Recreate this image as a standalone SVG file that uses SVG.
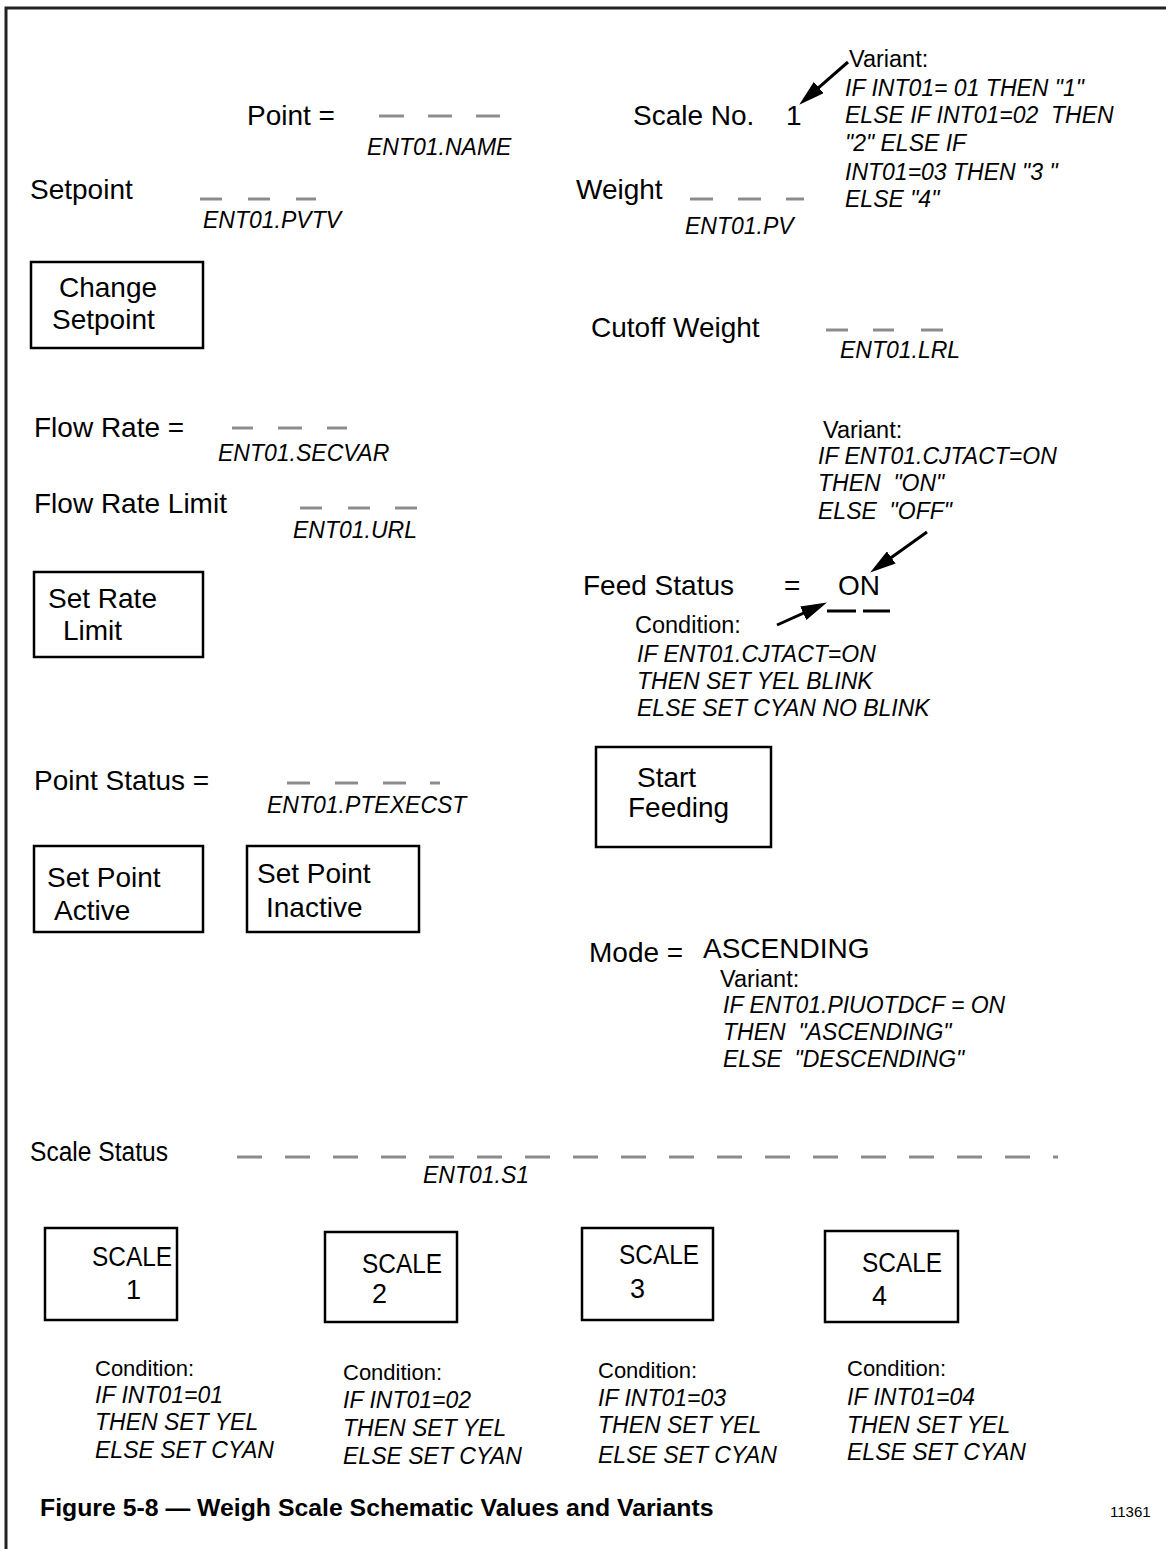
<svg xmlns="http://www.w3.org/2000/svg" width="1166" height="1549" viewBox="0 0 1166 1549">
<defs>
<style>
text{font-family:"Liberation Sans",Arial,sans-serif;fill:#000}
.lb{font-size:28px}
.lc{font-size:27px}
.it{font-size:23px;font-style:italic}
.sm{font-size:23.5px}
.sb{font-size:22px}
.cap{font-size:24.8px;font-weight:bold}
.num{font-size:15px}
.box{fill:none;stroke:#000;stroke-width:2.5}
.dash{stroke:#8c8c8c;stroke-width:3}
.bdash{stroke:#000;stroke-width:3}
.arr{stroke:#000;stroke-width:3;fill:none}
.frame{stroke:#222;stroke-width:3;fill:none}
</style>
<marker id="ah" markerUnits="userSpaceOnUse" markerWidth="26" markerHeight="15" refX="15" refY="7.5" orient="auto">
<path d="M0,0 L26,7.5 L0,15 z" fill="#000"/>
</marker>
</defs>
<rect width="1166" height="1549" fill="#fff"/>
<path class="frame" d="M6,1549 L6,8 L1166,8"/>

<g id="point">
<text class="lb" x="247" y="125">Point =</text>
<line class="dash" x1="379" y1="116" x2="404" y2="116"/><line class="dash" x1="428" y1="116" x2="452" y2="116"/><line class="dash" x1="476" y1="116" x2="500" y2="116"/>
<text class="it" x="367" y="155">ENT01.NAME</text>
</g>

<g id="setpoint">
<text class="lb" x="30" y="199">Setpoint</text>
<line class="dash" x1="200" y1="199" x2="222" y2="199"/><line class="dash" x1="248" y1="199" x2="270" y2="199"/><line class="dash" x1="296" y1="199" x2="316" y2="199"/>
<text class="it" x="203" y="228">ENT01.PVTV</text>
</g>

<g id="change-setpoint">
<rect class="box" x="31" y="262" width="172" height="86"/>
<text class="lb" x="59" y="297">Change</text>
<text class="lb" x="52" y="329">Setpoint</text>
</g>

<g id="scale-no">
<text class="lb" x="633" y="125">Scale No.</text>
<text class="lb" x="786" y="125">1</text>
</g>

<g id="scale-variant">
<text class="sm" x="849" y="67">Variant:</text>
<text class="it" x="845" y="96">IF INT01= 01 THEN "1"</text>
<text class="it" x="845" y="123" xml:space="preserve">ELSE IF INT01=02  THEN</text>
<text class="it" x="845" y="151">"2" ELSE IF</text>
<text class="it" x="845" y="180">INT01=03 THEN "3 "</text>
<text class="it" x="845" y="207">ELSE "4"</text>
</g>

<g id="weight">
<text class="lb" x="576" y="199">Weight</text>
<line class="dash" x1="690" y1="199" x2="713" y2="199"/><line class="dash" x1="738" y1="199" x2="761" y2="199"/><line class="dash" x1="786" y1="199" x2="804" y2="199"/>
<text class="it" x="685" y="234">ENT01.PV</text>
</g>

<g id="cutoff-weight">
<text class="lb" x="591" y="337">Cutoff Weight</text>
<line class="dash" x1="826" y1="330" x2="848" y2="330"/><line class="dash" x1="873" y1="330" x2="894" y2="330"/><line class="dash" x1="921" y1="330" x2="943" y2="330"/>
<text class="it" x="840" y="358">ENT01.LRL</text>
</g>

<g id="flow-rate">
<text class="lb" x="34" y="437">Flow Rate =</text>
<line class="dash" x1="232" y1="428" x2="253" y2="428"/><line class="dash" x1="278" y1="428" x2="302" y2="428"/><line class="dash" x1="327" y1="428" x2="347" y2="428"/>
<text class="it" x="218" y="461">ENT01.SECVAR</text>
</g>

<g id="flow-rate-limit">
<text class="lb" x="34" y="513">Flow Rate Limit</text>
<line class="dash" x1="300" y1="508" x2="322" y2="508"/><line class="dash" x1="348" y1="508" x2="370" y2="508"/><line class="dash" x1="395" y1="508" x2="417" y2="508"/>
<text class="it" x="293" y="538">ENT01.URL</text>
</g>

<g id="set-rate-limit">
<rect class="box" x="34" y="572" width="169" height="85"/>
<text class="lb" x="48" y="608">Set Rate</text>
<text class="lb" x="63" y="640">Limit</text>
</g>

<g id="feed-variant">
<text class="sm" x="823" y="438">Variant:</text>
<text class="it" x="818" y="464">IF ENT01.CJTACT=ON</text>
<text class="it" x="818" y="491" xml:space="preserve">THEN  "ON"</text>
<text class="it" x="818" y="519" xml:space="preserve">ELSE  "OFF"</text>
</g>

<g id="feed-status">
<text class="lb" x="583" y="595">Feed Status</text>
<text class="lb" x="784" y="595">=</text>
<text class="lb" x="838" y="595">ON</text>
<line class="bdash" x1="827" y1="611" x2="856" y2="611"/><line class="bdash" x1="863" y1="611" x2="890" y2="611"/>
</g>

<g id="feed-condition">
<text class="sm" x="635" y="633">Condition:</text>
<text class="it" x="637" y="662">IF ENT01.CJTACT=ON</text>
<text class="it" x="637" y="689">THEN SET YEL BLINK</text>
<text class="it" x="637" y="716">ELSE SET CYAN NO BLINK</text>
</g>

<g id="point-status">
<text class="lb" x="34" y="790">Point Status =</text>
<line class="dash" x1="287" y1="783" x2="310" y2="783"/><line class="dash" x1="335" y1="783" x2="358" y2="783"/><line class="dash" x1="383" y1="783" x2="406" y2="783"/><line class="dash" x1="430" y1="783" x2="440" y2="783"/>
<text class="it" x="267" y="813">ENT01.PTEXECST</text>
</g>

<g id="start-feeding">
<rect class="box" x="596" y="747" width="175" height="100"/>
<text class="lb" x="637" y="787">Start</text>
<text class="lb" x="628" y="817">Feeding</text>
</g>

<g id="set-point-active">
<rect class="box" x="34" y="846" width="169" height="86"/>
<text class="lb" x="47" y="887">Set Point</text>
<text class="lb" x="54" y="920">Active</text>
</g>

<g id="set-point-inactive">
<rect class="box" x="247" y="846" width="172" height="86"/>
<text class="lb" x="257" y="883">Set Point</text>
<text class="lb" x="266" y="917">Inactive</text>
</g>

<g id="mode">
<text class="lb" x="589" y="962">Mode =</text>
<text class="lb" x="703" y="958">ASCENDING</text>
<text class="sm" x="720" y="987">Variant:</text>
<text class="it" x="723" y="1013">IF ENT01.PIUOTDCF = ON</text>
<text class="it" x="723" y="1040" xml:space="preserve">THEN  "ASCENDING"</text>
<text class="it" x="723" y="1067" xml:space="preserve">ELSE  "DESCENDING"</text>
</g>

<g id="scale-status">
<text class="lc" x="30" y="1161" textLength="138" lengthAdjust="spacingAndGlyphs">Scale Status</text>
<line class="dash" x1="237" y1="1157" x2="1058" y2="1157" stroke-dasharray="25 23"/>
<text class="it" x="423" y="1183">ENT01.S1</text>
</g>

<g id="scale-1">
<rect class="box" x="45" y="1228" width="132" height="92"/>
<text class="lc" x="92" y="1266" textLength="80" lengthAdjust="spacingAndGlyphs">SCALE</text>
<text class="lc" x="126" y="1299">1</text>
</g>
<g id="scale-2">
<rect class="box" x="325" y="1232" width="132" height="90"/>
<text class="lc" x="362" y="1273" textLength="80" lengthAdjust="spacingAndGlyphs">SCALE</text>
<text class="lc" x="372" y="1303">2</text>
</g>
<g id="scale-3">
<rect class="box" x="582" y="1228" width="131" height="92"/>
<text class="lc" x="619" y="1264" textLength="80" lengthAdjust="spacingAndGlyphs">SCALE</text>
<text class="lc" x="630" y="1298">3</text>
</g>
<g id="scale-4">
<rect class="box" x="825" y="1231" width="133" height="91"/>
<text class="lc" x="862" y="1272" textLength="80" lengthAdjust="spacingAndGlyphs">SCALE</text>
<text class="lc" x="872" y="1305">4</text>
</g>

<g id="condition-1">
<text class="sb" x="95" y="1376">Condition:</text>
<text class="it" x="95" y="1403">IF INT01=01</text>
<text class="it" x="95" y="1430">THEN SET YEL</text>
<text class="it" x="95" y="1458">ELSE SET CYAN</text>
</g>
<g id="condition-2">
<text class="sb" x="343" y="1380">Condition:</text>
<text class="it" x="343" y="1408">IF INT01=02</text>
<text class="it" x="343" y="1436">THEN SET YEL</text>
<text class="it" x="343" y="1464">ELSE SET CYAN</text>
</g>
<g id="condition-3">
<text class="sb" x="598" y="1378">Condition:</text>
<text class="it" x="598" y="1406">IF INT01=03</text>
<text class="it" x="598" y="1433">THEN SET YEL</text>
<text class="it" x="598" y="1463">ELSE SET CYAN</text>
</g>
<g id="condition-4">
<text class="sb" x="847" y="1376">Condition:</text>
<text class="it" x="847" y="1405">IF INT01=04</text>
<text class="it" x="847" y="1433">THEN SET YEL</text>
<text class="it" x="847" y="1460">ELSE SET CYAN</text>
</g>

<g id="caption">
<text class="cap" x="40" y="1516">Figure 5-8 — Weigh Scale Schematic Values and Variants</text>
<text class="num" x="1110" y="1517">11361</text>
</g>

<g id="connectors">
<line class="arr" x1="848" y1="62" x2="807.5" y2="97.4" marker-end="url(#ah)"/>
<line class="arr" x1="927" y1="532" x2="879.1" y2="566.2" marker-end="url(#ah)"/>
<line class="arr" x1="777" y1="625" x2="816.9" y2="607.1" marker-end="url(#ah)"/>
</g>
</svg>
